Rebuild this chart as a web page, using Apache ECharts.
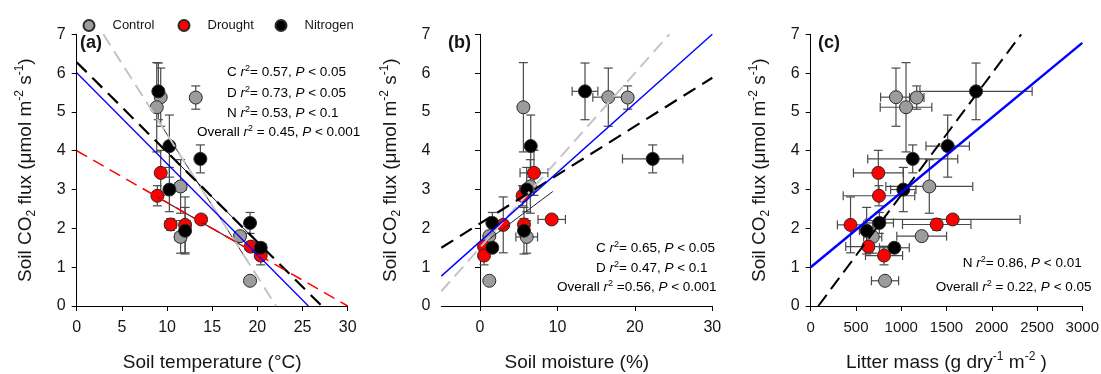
<!DOCTYPE html>
<html>
<head>
<meta charset="utf-8">
<script src="https://cdn.jsdelivr.net/npm/echarts@6/dist/echarts.min.js"></script>
<style>
  html, body { margin: 0; padding: 0; background: #fff; }
  #chart { width: 1101px; height: 374px; }
</style>
</head>
<body>
<div id="chart"></div>
<script>
const FONT = '"Liberation Sans", Arial, Helvetica, sans-serif';

// Soil CO2 flux (mean and error) for each plot, shared by the three panels
const controlFlux     = [5.38, 5.12, 5.37, 3.08, 1.78, 1.80, 0.65];
const controlFluxErr  = [0.75, 1.15, 0.30, 0.69, 0.42, 0.12, 0.06];
const droughtFlux     = [3.43, 2.84, 2.09, 2.10, 2.23, 1.53, 1.30];
const droughtFluxErr  = [0.58, 0.26, 0.72, 0.15, 0.10, 0.12, 0.24];
const nitrogenFlux    = [5.53, 4.12, 3.79, 3.00, 2.14, 1.94, 1.50];
const nitrogenFluxErr = [0.73, 0.80, 0.36, 0.57, 0.27, 0.60, 0.12];

// (a) soil temperature, °C
const tempControl     = [9.30, 8.86, 13.18, 11.50, 11.50, 18.08, 19.19];
const tempControlErr  = [0, 0, 0, 0.6, 0.6, 0.6, 0];
const tempDrought     = [9.30, 8.93, 12.00, 10.40, 13.77, 19.27, 20.37];
const tempDroughtErr  = [0, 0.5, 0.6, 0.6, 0.5, 0.6, 0.5];
const tempNitrogen    = [9.04, 10.26, 13.69, 10.26, 19.19, 12.00, 20.37];
const tempNitrogenErr = [0, 0, 0, 0, 0, 0, 0.6];

// (b) soil moisture, %
const moistControl     = [16.57, 5.60, 19.07, 6.50, 6.03, 1.20, 1.20];
const moistControlErr  = [2.0, 0.3, 0.6, 0.6, 1.4, 0.3, 0.3];
const moistDrought     = [6.97, 5.50, 3.00, 5.68, 9.26, 0.52, 0.52];
const moistDroughtErr  = [1.8, 0.5, 0.3, 0.3, 1.77, 0.3, 0.3];
const moistNitrogen    = [13.56, 6.55, 22.30, 6.03, 1.59, 5.68, 1.59];
const moistNitrogenErr = [1.66, 0.4, 3.9, 0.9, 0.3, 0.3, 0.3];

// (c) litter mass, g dry m-2
const litterControl     = [942, 1053, 1171, 1310, 685, 1226, 821];
const litterControlErr  = [170, 285, 80, 480, 100, 275, 150];
const litterDrought     = [747, 754, 440, 1392, 1568, 637, 810];
const litterDroughtErr  = [275, 395, 145, 378, 745, 250, 205];
const litterNitrogen    = [1826, 1513, 1127, 1023, 758, 618, 924];
const litterNitrogenErr = [620, 240, 497, 140, 156, 80, 165];

// Regression lines (end points)
const tempFitControl    = [[2.95, 7], [22.07, 0]];
const tempFitNitrogen   = [[0, 6.28], [27.13, 0]];
const tempFitOverall    = [[0, 6.01], [25.65, 0]];
const tempFitDrought    = [[0, 4.0], [30, 0]];
const tempRangeControl  = [[8.86, 4.84], [19.19, 1.05]];
const tempRangeNitrogen = [[9.04, 4.19], [20.37, 1.56]];
const tempRangeDrought  = [[8.93, 2.81], [20.37, 1.28]];

const moistFitControl   = [[-5, 0.38], [24.45, 7]];
const moistFitOverall   = [[-5, 0.77], [30, 7]];
const moistFitNitrogen  = [[-5, 1.50], [30, 5.88]];
const moistRangeDrought = [[0.5, 1.62], [9.4, 2.95]];

const litterFitNitrogen = [[84, 0], [2325, 7]];
const litterFitOverall  = [[0, 1.0], [3000, 6.78]];

// Axis ticks and labels
const yTicks = [0, 7, 1];
const tempTicks = [0, 30, 5];
const moistTicks = [-5, 30, 5];
const moistLabelValues = [0, 10, 20, 30];
const litterTicks = [0, 3000, 500];

const groupNames = ['Control', 'Drought', 'Nitrogen'];
const groupFills = ['#9c9c9c', '#ff0000', '#000000'];

// Statistics printed in each panel
const statsA = [
  '{n|C }{i|r}{s|2}{n|= 0.57, }{i|P}{n| < 0.05}',
  '{n|D }{i|r}{s|2}{n|= 0.73, }{i|P}{n| < 0.05}',
  '{n|N }{i|r}{s|2}{n|= 0.53, }{i|P}{n| < 0.1}',
  '{n|Overall }{i|r}{s|2}{n| = 0.45, }{i|P}{n| < 0.001}'
];
const statsB = [
  '{n|C }{i|r}{s|2}{n|= 0.65, }{i|P}{n| < 0.05}',
  '{n|D }{i|r}{s|2}{n|= 0.47, }{i|P}{n| < 0.1}',
  '{n|Overall }{i|r}{s|2}{n| =0.56, }{i|P}{n| < 0.001}'
];
const statsC = [
  '{n|N }{i|r}{s|2}{n|= 0.86, }{i|P}{n| < 0.01}',
  '{n|Overall }{i|r}{s|2}{n| = 0.22, }{i|P}{n| < 0.05}'
];

const TEXT = '#151515';
const statRich = {
  n: { fontFamily: FONT, fontSize: 13.5, color: TEXT, lineHeight: 17 },
  i: { fontFamily: FONT, fontSize: 13.5, color: TEXT, lineHeight: 17, fontStyle: 'italic' },
  s: { fontFamily: FONT, fontSize: 9, color: TEXT, lineHeight: 9, verticalAlign: 'top' }
};
const titleRich = {
  n: { fontFamily: FONT, fontSize: 19, color: TEXT, lineHeight: 24 },
  sub: { fontFamily: FONT, fontSize: 12, color: TEXT, lineHeight: 12, verticalAlign: 'bottom' },
  sup: { fontFamily: FONT, fontSize: 12, color: TEXT, lineHeight: 12, verticalAlign: 'top' }
};

const yTitle = '{n|Soil CO}{sub|2}{n| flux (\u03bcmol m}{sup|-2}{n| s}{sup|-1}{n|)}';

function points(xs, ys) { return xs.map((x, i) => [x, ys[i]]); }
function bars(xs, xe, ys, ye) { return xs.map((x, i) => [x, ys[i], xe[i], ye[i]]); }

const grids = [
  { left: 76.7, top: 34.3, width: 271, height: 271.7, outerBoundsMode: 'none', containLabel: false },
  { left: 441.3, top: 34.3, width: 271, height: 271.7, outerBoundsMode: 'none', containLabel: false },
  { left: 810.7, top: 34.3, width: 271.6, height: 271.7, outerBoundsMode: 'none', containLabel: false }
];

function yAxis(idx) {
  return {
    gridIndex: idx, type: 'value', min: yTicks[0], max: yTicks[1], interval: yTicks[2],
    axisLine: { show: true, lineStyle: { color: '#000', width: 1 } },
    axisTick: { show: true, length: 5, lineStyle: { color: '#000', width: 1 } },
    axisLabel: { fontFamily: FONT, fontSize: 16, color: TEXT, margin: 11 },
    splitLine: { show: false },
    name: yTitle, nameLocation: 'middle', nameRotate: 90, nameGap: 39,
    nameTextStyle: { rich: titleRich }
  };
}

function xAxis(idx, ticks, name, labelSize, labelValues) {
  const ax = {
    gridIndex: idx, type: 'value', min: ticks[0], max: ticks[1], interval: ticks[2],
    axisLine: { show: true, onZero: false, lineStyle: { color: '#000', width: 1 } },
    axisTick: { show: true, length: 5, lineStyle: { color: '#000', width: 1 } },
    axisLabel: { fontFamily: FONT, fontSize: labelSize, color: TEXT, margin: 14,
                 formatter: (v) => String(v) },
    splitLine: { show: false },
    name: name, nameLocation: 'middle', nameGap: 45,
    nameTextStyle: { rich: titleRich }
  };
  if (labelValues) {
    ax.axisLabel.customValues = labelValues;
    ax.axisTick.customValues = labelValues;
  }
  return ax;
}

function errorBarRender(params, api) {
  const x = api.value(0), y = api.value(1), ex = api.value(2), ey = api.value(3);
  const cap = 4.5;
  const style = { stroke: '#4a4a4a', lineWidth: 1.2, fill: null };
  const kids = [];
  if (ey > 0) {
    const t = api.coord([x, y + ey]), b = api.coord([x, y - ey]);
    kids.push({ type: 'line', shape: { x1: t[0], y1: t[1], x2: b[0], y2: b[1] }, style });
    kids.push({ type: 'line', shape: { x1: t[0] - cap, y1: t[1], x2: t[0] + cap, y2: t[1] }, style });
    kids.push({ type: 'line', shape: { x1: b[0] - cap, y1: b[1], x2: b[0] + cap, y2: b[1] }, style });
  }
  if (ex > 0) {
    const l = api.coord([x - ex, y]), r = api.coord([x + ex, y]);
    kids.push({ type: 'line', shape: { x1: l[0], y1: l[1], x2: r[0], y2: r[1] }, style });
    kids.push({ type: 'line', shape: { x1: l[0], y1: l[1] - cap, x2: l[0], y2: l[1] + cap }, style });
    kids.push({ type: 'line', shape: { x1: r[0], y1: r[1] - cap, x2: r[0], y2: r[1] + cap }, style });
  }
  return { type: 'group', children: kids };
}

function lineSeries(idx, data, color, width, dash) {
  return {
    type: 'line', xAxisIndex: idx, yAxisIndex: idx, data: data,
    symbol: 'none', silent: true, z: 6, animation: false,
    itemStyle: { color: color },
    lineStyle: { color: color, width: width, type: dash || 'solid' }
  };
}

const panelX = [
  [tempControl, tempDrought, tempNitrogen],
  [moistControl, moistDrought, moistNitrogen],
  [litterControl, litterDrought, litterNitrogen]
];
const panelXErr = [
  [tempControlErr, tempDroughtErr, tempNitrogenErr],
  [moistControlErr, moistDroughtErr, moistNitrogenErr],
  [litterControlErr, litterDroughtErr, litterNitrogenErr]
];
const groupFlux = [controlFlux, droughtFlux, nitrogenFlux];
const groupFluxErr = [controlFluxErr, droughtFluxErr, nitrogenFluxErr];

const series = [];
for (let p = 0; p < 3; p++) {
  for (let g = 0; g < 3; g++) {
    series.push({
      type: 'custom', name: groupNames[g] + ' error', xAxisIndex: p, yAxisIndex: p,
      renderItem: errorBarRender, silent: true, z: 2, animation: false,
      encode: { x: 0, y: 1 },
      data: bars(panelX[p][g], panelXErr[p][g], groupFlux[g], groupFluxErr[g])
    });
  }
  for (let g = 0; g < 3; g++) {
    series.push({
      type: 'scatter', name: groupNames[g], xAxisIndex: p, yAxisIndex: p,
      symbol: 'circle', symbolSize: 13, z: 3, animation: false,
      itemStyle: { color: groupFills[g], borderColor: '#2a2a2a', borderWidth: 1, opacity: 1 },
      data: points(panelX[p][g], groupFlux[g])
    });
  }
}

// (a) regression lines
series.push(lineSeries(0, tempRangeControl, '#333333', 1));
series.push(lineSeries(0, tempRangeNitrogen, '#111111', 1));
series.push(lineSeries(0, tempRangeDrought, '#561818', 1.2));
series.push(lineSeries(0, tempFitControl, '#c4c4c4', 2, [13, 7]));
series.push(lineSeries(0, tempFitNitrogen, '#000000', 2.2, [14, 8]));
series.push(lineSeries(0, tempFitOverall, '#0000ff', 1.3));
series.push(lineSeries(0, tempFitDrought, '#ff0000', 1.5, [12, 7]));
// (b) regression lines
series.push(lineSeries(1, moistRangeDrought, '#222222', 1));
series.push(lineSeries(1, moistFitControl, '#c4c4c4', 2, [13, 7]));
series.push(lineSeries(1, moistFitNitrogen, '#000000', 2.2, [14, 8]));
series.push(lineSeries(1, moistFitOverall, '#0000ff', 1.4));
// (c) regression lines
series.push(lineSeries(2, litterFitNitrogen, '#000000', 2, [14, 7]));
series.push(lineSeries(2, litterFitOverall, '#0000ff', 2.5));

function statText(x, y, text) {
  return { type: 'text', x: x, y: y, z: 10,
    style: { text: text, rich: statRich, verticalAlign: 'middle', align: 'left' } };
}
function panelTag(x, y, text) {
  return { type: 'text', x: x, y: y, z: 10,
    style: { text: text, fontFamily: FONT, fontSize: 18, fontWeight: 'bold', fill: TEXT,
             verticalAlign: 'middle', align: 'left' } };
}

const graphic = [
  panelTag(80, 43.5, '(a)'), panelTag(448, 43.5, '(b)'), panelTag(818, 43, '(c)'),
  statText(227, 72.7, statsA[0]), statText(227, 93.3, statsA[1]),
  statText(227, 113.3, statsA[2]), statText(197, 132.3, statsA[3]),
  statText(596, 248.3, statsB[0]), statText(596, 268.3, statsB[1]),
  statText(557, 287.3, statsB[2]),
  statText(962.7, 263.3, statsC[0]), statText(935.7, 287.3, statsC[1])
];

function legendItem(name, left) {
  return {
    data: [name], left: left, top: 14, padding: 5, icon: 'circle', itemWidth: 11, itemHeight: 11,
    selectedMode: false,
    textStyle: { fontFamily: FONT, fontSize: 13, color: TEXT, padding: [0, 0, 0, 13] }
  };
}

const chart = echarts.init(document.getElementById('chart'), null, { renderer: 'canvas' });
chart.setOption({
  backgroundColor: '#ffffff',
  animation: false,
  grid: grids,
  xAxis: [
    xAxis(0, tempTicks, '{n|Soil temperature (\u00b0C)}', 16),
    xAxis(1, moistTicks, '{n|Soil moisture (%)}', 16, moistLabelValues),
    xAxis(2, litterTicks, '{n|Litter mass (g dry}{sup|-1}{n| m}{sup|-2}{n| )}', 15)
  ],
  yAxis: [yAxis(0), yAxis(1), yAxis(2)],
  legend: [legendItem('Control', 77.5), legendItem('Drought', 172.5), legendItem('Nitrogen', 269.5)],
  graphic: graphic,
  series: series
});
</script>
</body>
</html>
